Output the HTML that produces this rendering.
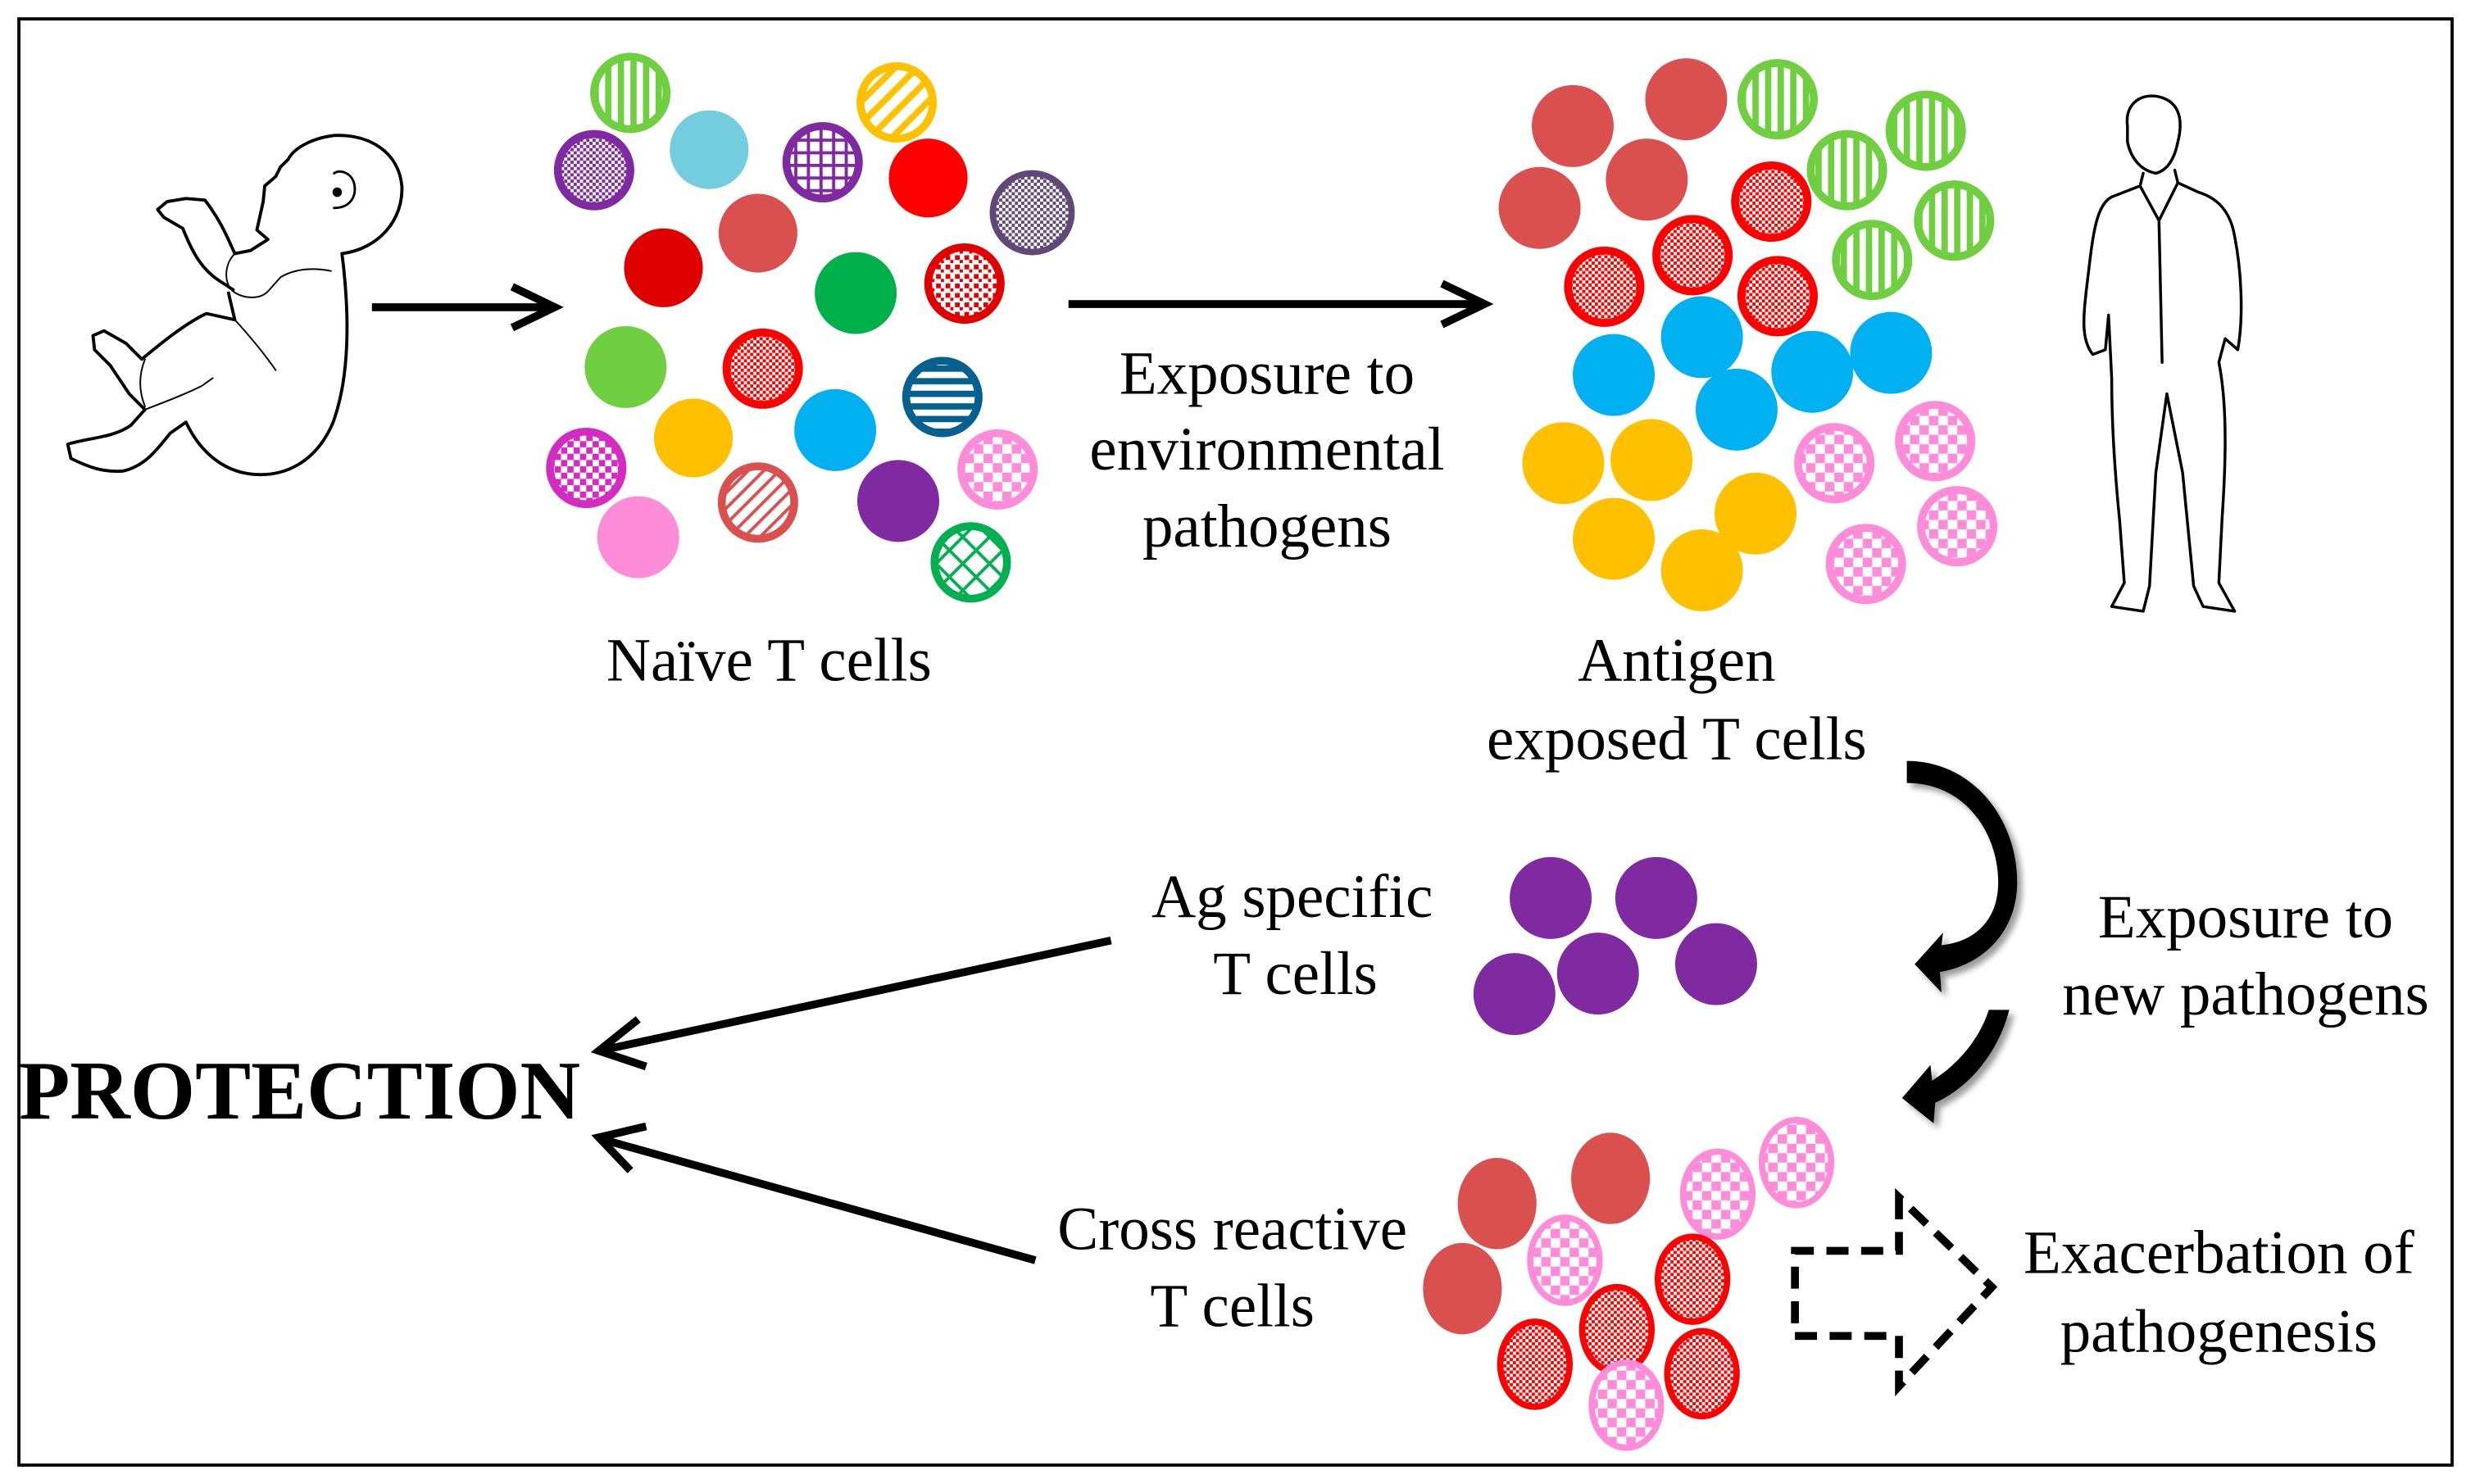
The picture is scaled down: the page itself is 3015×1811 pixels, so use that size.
<!DOCTYPE html>
<html><head><meta charset="utf-8"><style>
html,body{margin:0;padding:0;background:#fff;}
svg{display:block;}
text{font-family:"Liberation Serif",serif;fill:#000;}
</style></head><body>
<svg width="3015" height="1811" viewBox="0 0 1568 942" preserveAspectRatio="none" xmlns="http://www.w3.org/2000/svg">
<defs>
<pattern id="vs" width="8" height="8" patternUnits="userSpaceOnUse"><rect width="8" height="8" fill="#fff"/><rect width="4" height="8" fill="#70cf40"/></pattern>
<pattern id="ck" width="4" height="4" patternUnits="userSpaceOnUse"><rect width="4" height="4" fill="#fff"/><rect width="2" height="2" fill="#7f2aa0"/><rect x="2" y="2" width="2" height="2" fill="#7f2aa0"/></pattern>
<pattern id="gr" width="8" height="8" patternUnits="userSpaceOnUse"><rect width="8" height="8" fill="#7f2aa0"/><rect x="2" y="2" width="6" height="6" fill="#fff"/></pattern>
<pattern id="dy" width="10" height="10" patternUnits="userSpaceOnUse" patternTransform="rotate(45)"><rect width="10" height="10" fill="#fff"/><rect width="4" height="10" fill="#ffc000"/></pattern>
<pattern id="pg" width="4" height="4" patternUnits="userSpaceOnUse"><rect width="4" height="4" fill="#fff"/><rect width="2" height="2" fill="#604878"/><rect x="2" y="2" width="2" height="2" fill="#604878"/></pattern>
<pattern id="rd" width="6" height="6" patternUnits="userSpaceOnUse"><rect width="6" height="6" fill="#fff"/><rect width="3" height="3" fill="#e00000"/><rect x="3" y="3" width="2" height="2" fill="#e00000"/></pattern>
<pattern id="rc" width="4" height="4" patternUnits="userSpaceOnUse"><rect width="4" height="4" fill="#fff"/><rect width="2" height="2" fill="#ff0000"/><rect x="2" y="2" width="2" height="2" fill="#ff0000"/></pattern>
<pattern id="hs" width="8" height="8" patternUnits="userSpaceOnUse"><rect width="8" height="8" fill="#fff"/><rect width="8" height="4" fill="#05608f"/></pattern>
<pattern id="mc" width="8" height="8" patternUnits="userSpaceOnUse"><rect width="8" height="8" fill="#fff"/><rect width="4" height="4" fill="#d42cc0"/><rect x="4" y="4" width="4" height="4" fill="#d42cc0"/></pattern>
<pattern id="sd" width="7" height="7" patternUnits="userSpaceOnUse" patternTransform="rotate(45)"><rect width="7" height="7" fill="#fff"/><rect width="2" height="7" fill="#d9504f"/></pattern>
<pattern id="pc" width="12" height="12" patternUnits="userSpaceOnUse"><rect width="12" height="12" fill="#fff"/><rect width="6" height="6" fill="#ff8cd8"/><rect x="6" y="6" width="6" height="6" fill="#ff8cd8"/></pattern>
<pattern id="gx" width="12" height="12" patternUnits="userSpaceOnUse" patternTransform="rotate(45)"><rect width="12" height="12" fill="#fff"/><rect width="2" height="12" fill="#00b050"/><rect width="12" height="2" fill="#00b050"/></pattern>
<pattern id="gv" width="8" height="8" patternUnits="userSpaceOnUse"><rect width="8" height="8" fill="#fff"/><rect width="4" height="8" fill="#70cf40"/></pattern>
<filter id="sh" x="-30%" y="-30%" width="160%" height="160%"><feGaussianBlur in="SourceAlpha" stdDeviation="2"/><feOffset dx="3" dy="3"/><feComponentTransfer><feFuncA type="linear" slope="0.4"/></feComponentTransfer><feMerge><feMergeNode/><feMergeNode in="SourceGraphic"/></feMerge></filter>
</defs>
<rect x="12" y="12" width="1544" height="918" fill="#fff" stroke="#000" stroke-width="2"/>

<!-- baby -->
<g fill="none" stroke="#000" stroke-width="2" stroke-linecap="round" stroke-linejoin="round">
<path d="M217,161 C240,158 256,140 255,118 C253,97 235,85 212,86 C196,88 186,95 183,101 L178,106 L175,112 L168,118 L167,128 L163,146 L170,152 L159,159 L149,161 C144,150 140,140 130,127 L118,126 L106,128 L100,133 L104,138 L116,145 C122,160 128,172 142,180 L148,184"/>
<path d="M217,161 C222,200 222,240 211,269 C200,294 180,303 160,301 C140,299 126,285 118,268 L108,275 C100,285 92,296 78,299 C65,300 55,296 45,291 L43,282 C55,278 72,278 83,270 L92,260 L82,250 L70,232 L60,222 L59,213 L66,210 L80,218 L90,228 C102,218 118,205 131,199 L149,203 L145,186"/>
<path d="M92,260 C105,255 118,250 128,245 L135,240" stroke-width="1"/>
<path d="M92,228 C88,238 88,248 92,258" stroke-width="1"/>
<path d="M149,203 C160,215 168,225 175,235" stroke-width="1"/>
<path d="M149,161 C142,168 142,180 148,185 C155,190 165,190 170,185 L178,176 C188,170 200,170 210,172" stroke-width="1"/>
<path d="M212,132 C222,132 226,125 225,118 C224,110 216,107 212,110" stroke-width="1.5"/>
<circle cx="214" cy="122" r="2" fill="#000"/>
</g>

<!-- man -->
<g fill="none" stroke="#000" stroke-width="1.8" stroke-linecap="round" stroke-linejoin="round">
<path d="M1350,80 C1348,65 1360,58 1372,62 C1384,66 1385,78 1382,90 C1380,100 1376,108 1368,110 C1358,108 1352,100 1350,90 Z"/>
<path d="M1360,110 L1358,118 L1340,125 C1330,130 1328,150 1325,175 C1322,200 1320,215 1328,225 L1336,222 L1338,200 L1340,240 C1340,270 1342,300 1345,330 L1348,370 L1340,385 L1360,388 L1364,372 L1368,300 L1375,250 L1385,300 L1392,372 L1398,385 L1418,388 L1408,370 L1410,330 C1412,300 1414,260 1408,230 L1412,215 L1420,222 C1424,200 1422,170 1418,150 C1415,132 1405,125 1395,122 L1382,116 L1380,108"/>
<path d="M1358,118 L1370,140 L1382,116 M1370,140 L1372,230"/>
</g>

<!-- arrows -->
<g stroke="#000" stroke-width="5" fill="none" stroke-linecap="butt">
<path d="M236,195 L348,195"/><path d="M325,182 L352,195 L325,208"/>
<path d="M678,193 L938,193"/><path d="M915,180 L942,193 L915,206"/>
<path d="M705,597 L385,666"/><path d="M405,647 L380,667 L410,677"/>
<path d="M657,800 L385,724"/><path d="M410,715 L380,722 L400,743"/>
</g>

<!-- naive cells -->
<g stroke-width="5">
<circle cx="400" cy="59" r="23" fill="url(#vs)" stroke="#70cf40"/>
<circle cx="377" cy="108" r="23" fill="url(#ck)" stroke="#7f2aa0"/>
<circle cx="450" cy="95" r="25" fill="#73cddf" stroke="none"/>
<circle cx="522" cy="103" r="23" fill="url(#gr)" stroke="#7f2aa0"/>
<circle cx="569" cy="65" r="23" fill="url(#dy)" stroke="#ffc000"/>
<circle cx="589" cy="113" r="25" fill="#ff0000" stroke="none"/>
<circle cx="655" cy="135" r="25" fill="url(#pg)" stroke="#604878" stroke-width="4"/>
<circle cx="421" cy="170" r="25" fill="#df0000" stroke="none"/>
<circle cx="481" cy="148" r="25" fill="#d9504f" stroke="none"/>
<circle cx="543" cy="186" r="26" fill="#00b04a" stroke="none"/>
<circle cx="612" cy="180" r="23" fill="url(#rd)" stroke="#e00000"/>
<circle cx="397" cy="233" r="26" fill="#70cf40" stroke="none"/>
<circle cx="484" cy="234" r="23" fill="url(#rc)" stroke="#ff0000"/>
<circle cx="598" cy="252" r="23" fill="url(#hs)" stroke="#05608f"/>
<circle cx="440" cy="278" r="25" fill="#ffc000" stroke="none"/>
<circle cx="530" cy="273" r="26" fill="#00b0f0" stroke="none"/>
<circle cx="372" cy="297" r="23" fill="url(#mc)" stroke="#d42cc0"/>
<circle cx="481" cy="319" r="23" fill="url(#sd)" stroke="#d9504f"/>
<circle cx="570" cy="318" r="26" fill="#7f2aa0" stroke="none"/>
<circle cx="633" cy="298" r="23" fill="url(#pc)" stroke="#ff8cd8"/>
<circle cx="405" cy="341" r="26" fill="#ff8cd8" stroke="none"/>
<circle cx="616" cy="357" r="23" fill="url(#gx)" stroke="#00b050"/>
</g>

<!-- antigen exposed -->
<g stroke-width="5">
<circle cx="998" cy="80" r="26" fill="#d9504f"/>
<circle cx="1070" cy="63" r="26" fill="#d9504f"/>
<circle cx="977" cy="132" r="26" fill="#d9504f"/>
<circle cx="1045" cy="114" r="26" fill="#d9504f"/>
<circle cx="1128" cy="63" r="23" fill="url(#gv)" stroke="#70cf40"/>
<circle cx="1222" cy="83" r="23" fill="url(#gv)" stroke="#70cf40"/>
<circle cx="1172" cy="108" r="23" fill="url(#gv)" stroke="#70cf40"/>
<circle cx="1240" cy="140" r="23" fill="url(#gv)" stroke="#70cf40"/>
<circle cx="1188" cy="165" r="23" fill="url(#gv)" stroke="#70cf40"/>
<circle cx="1124" cy="128" r="23" fill="url(#rc)" stroke="#ff0000"/>
<circle cx="1074" cy="162" r="23" fill="url(#rc)" stroke="#ff0000"/>
<circle cx="1018" cy="182" r="23" fill="url(#rc)" stroke="#ff0000"/>
<circle cx="1128" cy="188" r="23" fill="url(#rc)" stroke="#ff0000"/>
<circle cx="1024" cy="238" r="26" fill="#00b0f0"/>
<circle cx="1080" cy="214" r="26" fill="#00b0f0"/>
<circle cx="1102" cy="260" r="26" fill="#00b0f0"/>
<circle cx="1150" cy="236" r="26" fill="#00b0f0"/>
<circle cx="1200" cy="224" r="26" fill="#00b0f0"/>
<circle cx="992" cy="294" r="26" fill="#ffc000"/>
<circle cx="1048" cy="292" r="26" fill="#ffc000"/>
<circle cx="1024" cy="342" r="26" fill="#ffc000"/>
<circle cx="1080" cy="362" r="26" fill="#ffc000"/>
<circle cx="1114" cy="326" r="26" fill="#ffc000"/>
<circle cx="1164" cy="294" r="23" fill="url(#pc)" stroke="#ff8cd8"/>
<circle cx="1228" cy="280" r="23" fill="url(#pc)" stroke="#ff8cd8"/>
<circle cx="1242" cy="334" r="23" fill="url(#pc)" stroke="#ff8cd8"/>
<circle cx="1184" cy="358" r="23" fill="url(#pc)" stroke="#ff8cd8"/>
</g>

<!-- Ag specific purple -->
<g fill="#7f2aa0">
<circle cx="984" cy="570" r="26"/><circle cx="1051" cy="570" r="26"/>
<circle cx="961" cy="631" r="26"/><circle cx="1014" cy="618" r="26"/><circle cx="1089" cy="612" r="26"/>
</g>

<!-- bottom cluster -->
<g stroke-width="4">
<ellipse cx="950" cy="764" rx="25" ry="29" fill="#d9504f"/>
<ellipse cx="1022" cy="748" rx="25" ry="29" fill="#d9504f"/>
<ellipse cx="928" cy="818" rx="25" ry="29" fill="#d9504f"/>
<ellipse cx="993" cy="800" rx="22" ry="27" fill="url(#pc)" stroke="#ff8cd8"/>
<ellipse cx="1090" cy="758" rx="22" ry="27" fill="url(#pc)" stroke="#ff8cd8"/>
<ellipse cx="1140" cy="738" rx="22" ry="27" fill="url(#pc)" stroke="#ff8cd8"/>
<ellipse cx="1074" cy="812" rx="22" ry="27" fill="url(#rc)" stroke="#ff0000"/>
<ellipse cx="1026" cy="844" rx="22" ry="27" fill="url(#rc)" stroke="#ff0000"/>
<ellipse cx="974" cy="866" rx="22" ry="27" fill="url(#rc)" stroke="#ff0000"/>
<ellipse cx="1080" cy="872" rx="22" ry="27" fill="url(#rc)" stroke="#ff0000"/>
<ellipse cx="1032" cy="892" rx="22" ry="27" fill="url(#pc)" stroke="#ff8cd8"/>
</g>

<!-- dashed arrow -->
<path d="M1205,760 L1205,794 L1139,794 L1139,848 L1205,848 L1205,880 L1264,817 Z" fill="none" stroke="#000" stroke-width="5" stroke-dasharray="14,8"/>

<!-- curved arrows -->
<g filter="url(#sh)" fill="#000">
<path d="M1210,483 L1210,497 C1248,497 1268,530 1268,560 C1268,585 1252,598 1232,600 L1233,592 L1215,612 L1232,630 L1231,617 C1260,612 1280,590 1280,560 C1280,520 1252,483 1210,483 Z"/>
<path d="M1262,641 L1275,641 C1268,668 1250,690 1228,700 L1227,713 L1207,697 L1225,676 L1226,686 C1242,676 1256,660 1262,641 Z"/>
</g>

<!-- text -->
<g font-size="39" text-anchor="middle">
<text x="488" y="432">Naïve T cells</text>
<text x="804" y="250">Exposure to</text>
<text x="804" y="298">environmental</text>
<text x="804" y="347">pathogens</text>
<text x="1064" y="432">Antigen</text>
<text x="1064" y="482">exposed T cells</text>
<text x="820" y="582">Ag specific</text>
<text x="822" y="631">T cells</text>
<text x="1425" y="595">Exposure to</text>
<text x="1425" y="644">new pathogens</text>
<text x="782" y="793">Cross reactive</text>
<text x="782" y="842">T cells</text>
<text x="1408" y="808">Exacerbation of</text>
<text x="1408" y="858">pathogenesis</text>
</g>
<text x="12" y="710" font-size="53" font-weight="bold">PROTECTION</text>
</svg>
</body></html>
